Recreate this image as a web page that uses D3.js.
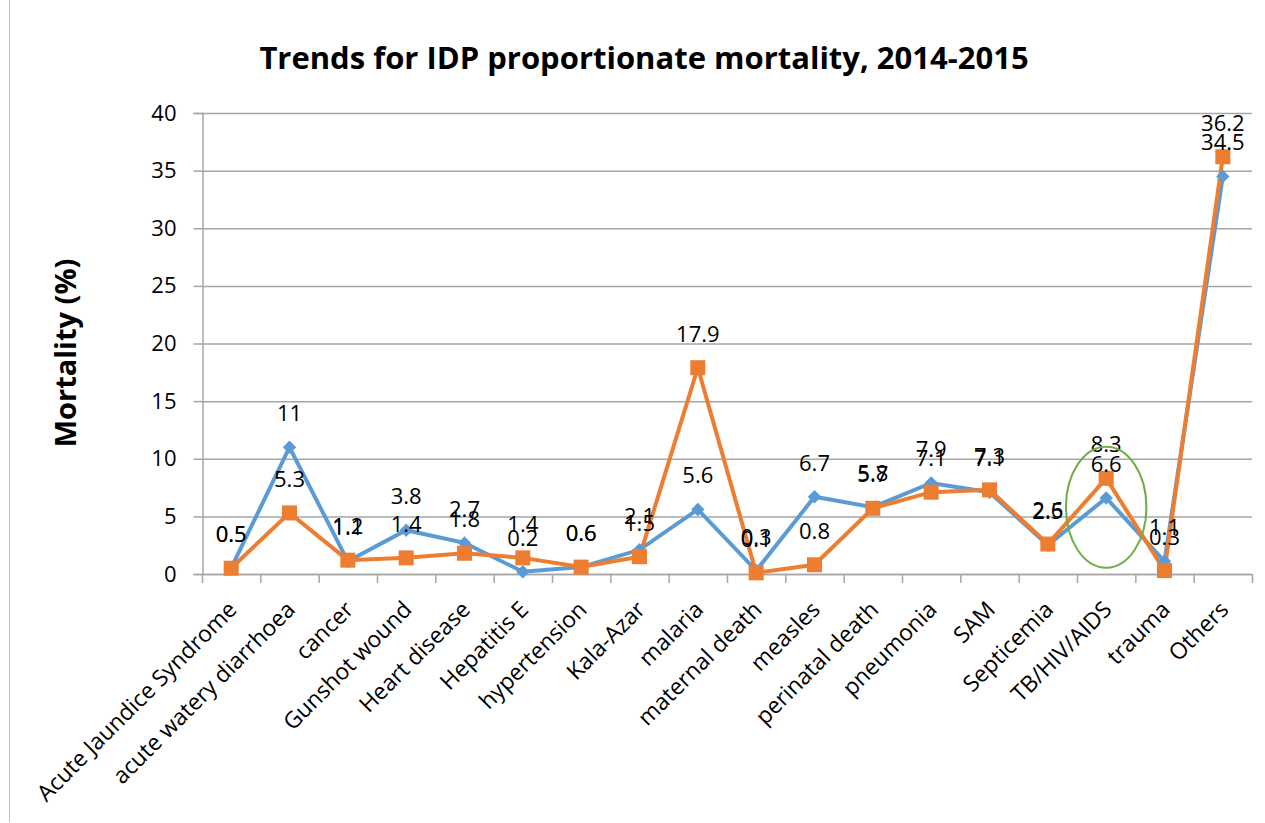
<!DOCTYPE html>
<html>
<head>
<meta charset="utf-8">
<script src="https://cdn.jsdelivr.net/npm/d3@7"></script>
<style>
  body { margin: 0; background: #fff; }
  svg text { font-family: "Open Sans", Lato, sans-serif; fill: #000; }
</style>
</head>
<body>
<div id="the_chart"></div>
<script>
var categories = ["Acute Jaundice Syndrome", "acute watery diarrhoea", "cancer", "Gunshot wound",
  "Heart disease", "Hepatitis E", "hypertension", "Kala-Azar", "malaria", "maternal death",
  "measles", "perinatal death", "pneumonia", "SAM", "Septicemia", "TB/HIV/AIDS", "trauma", "Others"];
var values2014 = [0.5, 11, 1.1, 3.8, 2.7, 0.2, 0.6, 2.1, 5.6, 0.3, 6.7, 5.8, 7.9, 7.1, 2.5, 6.6, 1.1, 34.5];
var values2015 = [0.5, 5.3, 1.2, 1.4, 1.8, 1.4, 0.6, 1.5, 17.9, 0.1, 0.8, 5.7, 7.1, 7.3, 2.6, 8.3, 0.3, 36.2];
var yTicks = [0, 5, 10, 15, 20, 25, 30, 35, 40];
var highlight = "TB/HIV/AIDS";   // the circled category

var w = 1265, h = 823;
var plotLeft = 202, plotRight = 1252, plotTop = 113, plotBottom = 574;

var svg = d3.select("#the_chart").append("svg")
  .attr("width", w).attr("height", h);

// chart border (only left edge visible in the picture)
svg.append("line").attr("x1", 9.5).attr("x2", 9.5).attr("y1", 0).attr("y2", 822)
  .attr("stroke", "#bfbfbf").attr("stroke-width", 1);

var xscale = d3.scaleBand().domain(categories).range([plotLeft, plotRight]);
var yscale = d3.scaleLinear().domain([0, 40]).range([plotBottom, plotTop]);
function cx(d, i) { return xscale(categories[i]) + xscale.bandwidth() / 2; }

// gridlines
svg.append("g").selectAll("line").data(yTicks).enter().append("line")
  .attr("x1", plotLeft).attr("x2", plotRight)
  .attr("y1", function (d) { return yscale(d) + 0.5; })
  .attr("y2", function (d) { return yscale(d) + 0.5; })
  .attr("stroke", "#a6a6a6").attr("stroke-width", 1.5);

// y axis
var yaxis = d3.axisLeft(yscale).tickValues(yTicks).tickSize(9).tickPadding(17);
var yg = svg.append("g").attr("transform", "translate(" + (plotLeft + 0.5) + ",0)").call(yaxis);
yg.select(".domain").attr("stroke", "#a6a6a6").attr("stroke-width", 1.5);
yg.selectAll(".tick line").attr("stroke", "#a6a6a6").attr("stroke-width", 1.5);
yg.selectAll(".tick text").style("font-size", "22px").style("font-family", "'Open Sans', sans-serif").attr("fill", "#000");

// x axis with ticks at band edges
var edges = categories.map(function (c) { return xscale(c); }).concat([plotRight]);
svg.append("line").attr("x1", plotLeft).attr("x2", plotRight)
  .attr("y1", plotBottom + 0.5).attr("y2", plotBottom + 0.5)
  .attr("stroke", "#a6a6a6").attr("stroke-width", 1.5);
svg.append("g").selectAll("line").data(edges).enter().append("line")
  .attr("x1", function (d) { return d + 0.5; }).attr("x2", function (d) { return d + 0.5; })
  .attr("y1", plotBottom).attr("y2", plotBottom + 9)
  .attr("stroke", "#a6a6a6").attr("stroke-width", 1.5);

svg.append("g").selectAll("text").data(categories).enter().append("text")
  .attr("transform", function (d) {
    return "translate(" + (xscale(d) + xscale.bandwidth() / 2 + 7) + "," + (plotBottom + 37) + ") rotate(-45)";
  })
  .attr("text-anchor", "end")
  .style("font-size", "22.8px")
  .text(function (d) { return d; });

// title and axis title
svg.append("text").attr("x", 644).attr("y", 69).attr("text-anchor", "middle")
  .style("font-size", "31px").style("font-weight", "bold")
  .text("Trends for IDP proportionate mortality, 2014-2015");
svg.append("text").attr("transform", "translate(76,353) rotate(-90)").attr("text-anchor", "middle")
  .style("font-size", "29px").style("font-weight", "bold")
  .text("Mortality (%)");

// lines
var line = d3.line().x(cx).y(function (d) { return yscale(d); });
svg.append("path").datum(values2014).attr("d", line)
  .attr("fill", "none").attr("stroke", "#5b9bd5").attr("stroke-width", 4);
svg.append("path").datum(values2015).attr("d", line)
  .attr("fill", "none").attr("stroke", "#ed7d31").attr("stroke-width", 4);

// markers
svg.append("g").selectAll("path").data(values2014).enter().append("path")
  .attr("d", d3.symbol().type(d3.symbolDiamond2).size(115))
  .attr("transform", function (d, i) { return "translate(" + cx(d, i) + "," + yscale(d) + ")"; })
  .attr("fill", "#5b9bd5");
svg.append("g").selectAll("rect").data(values2015).enter().append("rect")
  .attr("x", function (d, i) { return cx(d, i) - 7.5; })
  .attr("y", function (d) { return yscale(d) - 7.5; })
  .attr("width", 15).attr("height", 15)
  .attr("fill", "#ed7d31");

// data labels
[values2014, values2015].forEach(function (vals) {
  svg.append("g").selectAll("text").data(vals).enter().append("text")
    .attr("x", cx)
    .attr("y", function (d) { return yscale(d) - 26; })
    .attr("text-anchor", "middle")
    .style("font-size", "22px")
    .text(function (d) { return d; });
});

// green ellipse around the TB/HIV/AIDS point
var hx = xscale(highlight) + xscale.bandwidth() / 2;
svg.append("ellipse")
  .attr("cx", hx).attr("cy", yscale(5.8))
  .attr("rx", xscale.bandwidth() * 0.69)
  .attr("ry", yscale(0) - yscale(5.25))
  .attr("fill", "none").attr("stroke", "#70ad47").attr("stroke-width", 2);
</script>
</body>
</html>
